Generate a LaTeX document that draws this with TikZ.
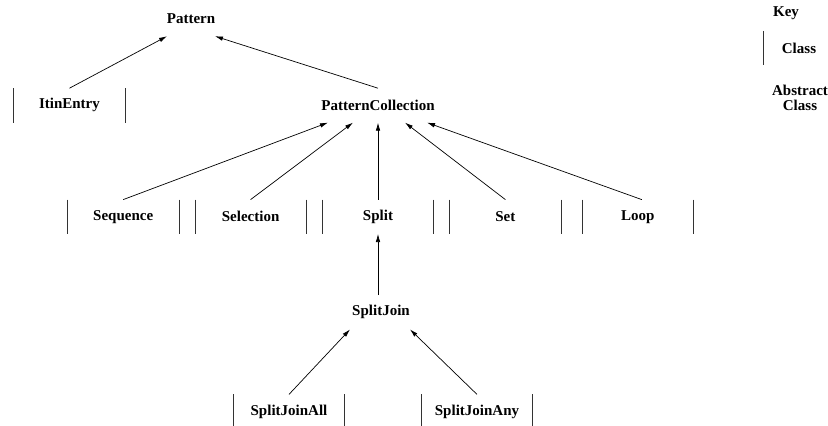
\documentclass[tikz,border=0pt]{standalone}
\usepackage{fontspec}
\setmainfont{Liberation Serif}
\usepackage{tikz}
\usetikzlibrary{arrows.meta,positioning}

\tikzset{
  >={Latex[length=8pt,width=4.5pt]},
  abstract/.style={minimum width=111pt,minimum height=34pt,inner sep=0pt},
  class/.style={abstract},
  bar/.style={line width=0.8pt,black!80},
  link/.style={->,line width=0.7pt,black}
}

\begin{document}
\begin{tikzpicture}[x=1pt,y=1pt,font=\fontsize{15}{15}\selectfont\bfseries]
\useasboundingbox (0,0) rectangle (828,-426);

\node[abstract] (pat) at (191,-19) {Pattern};
\node[abstract, below=52pt of pat, xshift=187pt] (pc) {PatternCollection};
\node[class, left=196pt of pc] (itin) {ItinEntry};

\node[class, below=77pt of pc] (split) {Split};
\node[class, left=16pt of split] (sel) {Selection};
\node[class, left=16pt of sel] (seq) {Sequence};
\node[class, right=16pt of split] (set) {Set};
\node[class, right=21pt of set] (loop) {Loop};

\node[abstract, below=61pt of split, xshift=3pt] (sj) {SplitJoin};
\node[class, below=65pt of sj, xshift=-92pt] (sjall) {SplitJoinAll};
\node[class, below=65pt of sj, xshift=96pt] (sjany) {SplitJoinAny};

% key
\node (key) at (786,-13) {Key};
\node[minimum width=70pt,minimum height=34pt,inner sep=0pt] (keycls) at (799,-48) {Class};
\node[align=center,inner sep=0pt] (keyabs) at (800,-98) {Abstract\\Class};

% side bars of the classes
\foreach \n in {itin,seq,sel,split,set,loop,sjall,sjany}
  \draw[bar] (\n.north west) -- (\n.south west) (\n.north east) -- (\n.south east);
\draw[bar] (keycls.north west) -- (keycls.south west);

\draw[link] (itin.north) -- ([xshift=-24pt]pat.south);
\draw[link] (pc.north) -- ([xshift=24pt]pat.south);

\draw[link] (seq.north) -- ([xshift=-50pt]pc.south);
\draw[link] (sel.north) -- ([xshift=-25pt]pc.south);
\draw[link] (split.north) -- (pc.south);
\draw[link] (set.north) -- ([xshift=27pt]pc.south);
\draw[link] ([xshift=4pt]loop.north) -- ([xshift=49pt]pc.south);

\draw[link] ([xshift=-3pt]sj.north) -- (split);
\draw[link] (sjall.north) -- ([xshift=-31pt]sj.south);
\draw[link] (sjany.north) -- ([xshift=29pt]sj.south);
\end{tikzpicture}
\end{document}
